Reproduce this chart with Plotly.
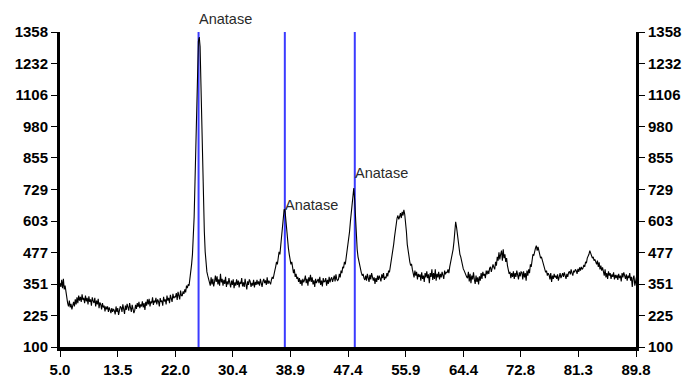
import plotly.graph_objects as go

# XRD pattern, counts at 0.125 deg steps starting at 5.0 deg
counts = [
    355, 340, 368, 335, 372, 330, 345, 318,    # 5
    300, 275, 262, 285, 258, 272, 250, 268,    # 6
    280, 262, 290, 270, 298, 275, 305, 285,    # 7
    300, 280, 310, 288, 296, 275, 305, 282,    # 8
    296, 270, 302, 280, 290, 265, 298, 284,    # 9
    276, 296, 262, 285, 270, 292, 255, 278,    # 10
    270, 250, 275, 258, 265, 242, 262, 250,    # 11
    262, 240, 258, 248, 235, 255, 240, 252,    # 12
    245, 230, 262, 240, 255, 228, 250, 262,    # 13
    258, 240, 270, 246, 232, 265, 248, 272,    # 14
    262, 245, 275, 255, 240, 268, 250, 235,    # 15
    246, 268, 252, 275, 260, 280, 255, 270,    # 16
    262, 282, 258, 275, 248, 280, 265, 290,    # 17
    270, 292, 262, 282, 275, 298, 268, 285,    # 18
    278, 296, 270, 290, 282, 262, 295, 280,    # 19
    285, 265, 300, 282, 290, 270, 305, 285,    # 20
    296, 275, 308, 290, 280, 312, 295, 300,    # 21
    300, 315, 288, 320, 302, 290, 325, 305,    # 22
    305, 322, 312, 330, 318, 345, 335, 350,    # 23
    345, 370, 400, 430, 470, 540, 620, 760,    # 24
    900, 1080, 1250, 1320, 1338, 1300, 1150, 980,  # 25
    820, 680, 560, 480, 430, 400, 385, 370,    # 26
    365, 345, 378, 350, 372, 342, 360, 385,    # 27
    360, 382, 350, 370, 345, 392, 358, 372,    # 28
    345, 368, 352, 380, 340, 362, 350, 375,    # 29
    355, 338, 365, 348, 370, 335, 358, 345,    # 30
    370, 348, 365, 338, 360, 352, 375, 342,    # 31
    358, 340, 372, 350, 330, 362, 348, 370,    # 32
    362, 340, 356, 345, 368, 338, 360, 348,    # 33
    368, 350, 362, 345, 372, 355, 340, 362,    # 34
    372, 355, 366, 348, 378, 352, 365, 358,    # 35
    350, 368, 380, 372, 395, 405, 420, 440,    # 36
    430, 455, 480, 470, 505, 540, 575, 610,    # 37
    650, 645, 600, 560, 530, 495, 470, 455,    # 38
    430, 440, 405, 395, 410, 380, 392, 372,    # 39
    380, 360, 375, 352, 368, 345, 372, 358,    # 40
    368, 385, 355, 372, 345, 378, 362, 388,    # 41
    360, 378, 350, 366, 340, 372, 355, 368,    # 42
    372, 355, 380, 348, 365, 342, 375, 360,    # 43
    362, 375, 345, 368, 352, 380, 358, 372,    # 44
    378, 360, 372, 385, 362, 390, 370, 365,    # 45
    370, 392, 378, 405, 395, 420, 415, 440,    # 46
    430, 455, 470, 500, 520, 560, 600, 640,    # 47
    690, 720, 735, 690, 610, 540, 490, 460,    # 48
    440, 420, 405, 395, 385, 392, 375, 368,    # 49
    385, 365, 392, 372, 360, 388, 370, 395,    # 50
    380, 365, 378, 352, 375, 360, 385, 368,    # 51
    385, 370, 362, 390, 375, 395, 368, 380,    # 52
    375, 395, 382, 405, 398, 420, 440, 470,    # 53
    480, 510, 540, 575, 600, 615, 625, 610,    # 54
    620, 635, 615, 640, 625, 648, 630, 600,    # 55
    560, 510, 480, 455, 440, 425, 432, 410,    # 56
    395, 378, 405, 385, 400, 370, 392, 380,    # 57
    390, 365, 398, 372, 385, 360, 395, 378,    # 58
    402, 375, 390, 355, 395, 380, 410, 368,    # 59
    395, 372, 410, 365, 392, 378, 400, 370,    # 60
    392, 378, 400, 385, 372, 405, 390, 398,    # 61
    398, 410, 395, 420, 435, 450, 470, 490,    # 62
    520, 560, 600, 580, 545, 510, 485, 470,    # 63
    460, 440, 430, 412, 405, 395, 390, 380,    # 64
    375, 400, 362, 392, 355, 385, 370, 398,    # 65
    370, 352, 385, 360, 378, 350, 382, 365,    # 66
    395, 372, 400, 385, 392, 375, 405, 390,    # 67
    405, 392, 415, 420, 400, 425, 430, 418,    # 68
    410, 440, 425, 460, 445, 478, 450, 470,    # 69
    485, 445, 490, 455, 470, 440, 455, 425,    # 70
    410, 392, 400, 375, 395, 380, 402, 372,    # 71
    395, 380, 405, 385, 370, 398, 382, 400,    # 72
    398, 370, 402, 378, 395, 365, 405, 385,    # 73
    410, 395, 430, 420, 445, 470, 465, 490,    # 74
    495, 505, 485, 500, 480, 470, 455, 460,    # 75
    445, 430, 420, 410, 398, 405, 385, 395,    # 76
    388, 370, 395, 360, 385, 372, 392, 378,    # 77
    385, 372, 390, 365, 380, 395, 375, 385,    # 78
    395, 380, 398, 385, 372, 392, 380, 398,    # 79
    402, 390, 410, 395, 385, 405, 398, 410,    # 80
    405, 392, 412, 400, 418, 405, 420, 410,    # 81
    415, 428, 420, 440, 435, 455, 460, 470,    # 82
    485, 475, 470, 455, 460, 445, 450, 440,    # 83
    430, 445, 420, 438, 410, 425, 405, 418,    # 84
    400, 385, 410, 378, 395, 372, 402, 385,    # 85
    395, 372, 390, 380, 398, 370, 388, 375,    # 86
    388, 368, 392, 375, 385, 362, 395, 378,    # 87
    398, 380, 372, 390, 365, 385, 375, 395,    # 88
    365, 380, 340, 375, 385, 345, 372, 380,    # 89
]
scan_start = 5.0
scan_step = 0.125
two_theta = [scan_start + scan_step * i for i in range(len(counts))]

x_ticks = [5.0, 13.5, 22.0, 30.4, 38.9, 47.4, 55.9, 64.4, 72.8, 81.3, 89.8]
y_ticks = [100, 225, 351, 477, 603, 729, 855, 980, 1106, 1232, 1358]

peak_positions = [25.4, 38.1, 48.4]
peak_labels = ["Anatase", "Anatase", "Anatase"]
label_heights = [1358, 668, 795]

font_family = "Liberation Sans Narrow, Arial Narrow, Liberation Sans, Arial, sans-serif"

fig = go.Figure()
fig.add_trace(go.Scatter(x=two_theta, y=counts, mode="lines",
                         line=dict(color="black", width=1.1), showlegend=False,
                         hoverinfo="skip"))
fig.add_trace(go.Scatter(x=[x_ticks[0]], y=[y_ticks[0]], yaxis="y2", mode="markers",
                         marker=dict(opacity=0), showlegend=False, hoverinfo="skip"))

for px in peak_positions:
    fig.add_shape(type="line", xref="x", yref="y", x0=px, x1=px,
                  y0=y_ticks[0], y1=y_ticks[-1],
                  line=dict(color="#3b3bff", width=2), layer="below")

for i, (px, lab, h) in enumerate(zip(peak_positions, peak_labels, label_heights)):
    fig.add_annotation(x=px, y=h, xref="x", yref="y", text=lab, showarrow=False,
                       xanchor="left", yanchor="bottom" if i == 0 else "middle",
                       yshift=3 if i == 0 else 0, xshift=-2,
                       font=dict(family=font_family, size=14.5, color="#2a2a2a"))

tickfont = dict(family=font_family, size=15, color="black", weight="bold")
axis_common = dict(range=[y_ticks[0], y_ticks[-1]], tickvals=y_ticks,
                   ticktext=[str(v) for v in y_ticks], ticks="outside", ticklen=6,
                   tickwidth=1, tickcolor="black", showline=True, linecolor="black",
                   linewidth=3, showgrid=False, zeroline=False, tickfont=tickfont,
                   automargin=False)

fig.update_layout(
    width=697, height=384,
    margin=dict(l=60, r=61, t=32, b=37),
    paper_bgcolor="white", plot_bgcolor="white",
    xaxis=dict(range=[x_ticks[0], x_ticks[-1]], tickvals=x_ticks,
               ticktext=[f"{v:.1f}" for v in x_ticks], ticks="outside", ticklen=6,
               tickwidth=1, tickcolor="black", showline=True, linecolor="black",
               linewidth=4, showgrid=False, zeroline=False, tickfont=tickfont,
               automargin=False),
    yaxis=dict(side="left", **axis_common),
    yaxis2=dict(side="right", overlaying="y", **axis_common),
)

fig.write_html("out.html", config={"displayModeBar": False},
               post_script="document.body.style.margin='0';document.body.style.padding='0';")
